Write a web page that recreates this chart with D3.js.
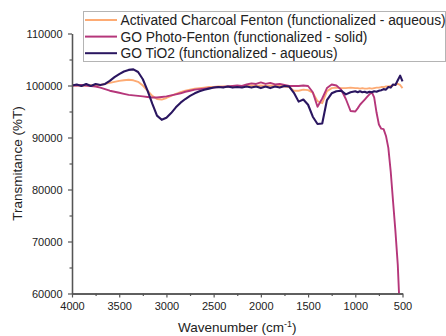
<!DOCTYPE html>
<html>
<head>
<meta charset="utf-8">
<script src="https://cdn.jsdelivr.net/npm/d3@7"></script>
<style>
  body { margin: 0; background: #fff; }
  svg { display: block; font-family: "Liberation Sans", Arial, sans-serif; }
  .axis .domain { stroke: #555; stroke-width: 1.3; }
  .axis line { stroke: #555; stroke-width: 1.2; }
  .axis text { fill: #222; font-size: 11px; }
</style>
</head>
<body>
<div id="chart"></div>
<script>
// wavenumber grid (cm-1)
const wavenumbers = [
  4000, 3950, 3900, 3850, 3800, 3750, 3700, 3650, 3600, 3550,
  3500, 3450, 3400, 3350, 3300, 3250, 3200, 3150, 3100, 3050,
  3000, 2950, 2900, 2850, 2800, 2750, 2700, 2650, 2600, 2550,
  2500, 2450, 2400, 2350, 2300, 2250, 2200, 2150, 2100, 2050,
  2000, 1950, 1900, 1850, 1800, 1750, 1700, 1650, 1600, 1550,
  1500, 1450, 1400, 1350, 1300, 1250, 1200, 1150, 1100, 1050,
  1000,
  975, 950, 925, 900, 875, 850, 825, 800, 775, 750,
  725, 700, 675, 650, 625, 600, 575, 550, 525, 500
];

const charcoalFenton = [
  100000, 100050, 99950, 100000, 100050, 100000, 100100, 100300, 100500, 100700,
  100900, 101000, 101100, 101000, 100700, 100000, 99000, 98000, 97400, 97300,
  97600, 98000, 98400, 98700, 99000, 99200, 99400, 99500, 99600, 99700,
  99700, 99800, 99800, 99800, 99900, 99900, 99900, 99900, 100000, 99900,
  100000, 99900, 100000, 99900, 99900, 99800, 99700, 99000, 99000, 99200,
  99100, 98600, 97000, 96600, 98900, 99500, 99600, 99500, 99500, 99600,
  99500,
  99500, 99400, 99500, 99400, 99400, 99500, 99400, 99500, 99600, 99600,
  99700, 99700, 99800, 99800, 99900, 100000, 100200, 100300, 100100, 99500
];

const photoFenton = [
  100000, 100000, 100100, 100000, 99900, 99800, 99600, 99300, 99000, 98800,
  98600, 98400, 98200, 98100, 98000, 97900, 97800, 97700, 97700, 97800,
  97900, 98100, 98300, 98500, 98800, 99000, 99200, 99300, 99400, 99500,
  99600, 99700, 99700, 99800, 99900, 100000, 99900, 100200, 100400, 100300,
  100600, 100300, 100500, 100200, 100300, 100100, 99900, 99900, 99900, 100000,
  99900, 98700, 95900, 97500, 99500, 100200, 100000, 99200, 97400, 95100,
  95000,
  95600, 96300, 96800, 97300, 97800, 98300, 98700, 97700, 94800, 92500,
  91700, 91600, 90300, 88000, 83500, 77700, 72000, 65500, 55000, 48000
];

const goTiO2 = [
  100000, 100200, 99900, 100300, 99900, 100300, 100100, 100300, 100900, 101600,
  102200, 102700, 103000, 103100, 102600, 101200, 99000, 96500, 94200, 93400,
  93800, 94700, 95800, 96700, 97400, 98000, 98500, 98900, 99200, 99400,
  99600, 99700, 99600, 99800, 99600, 99700, 99600, 99800, 99600, 99800,
  99500, 99800, 99500, 99800, 99600, 99900, 99800, 98600, 96900, 97300,
  96300, 94000, 92600, 92700, 97200, 98500, 98900, 99000, 98300, 98700,
  98900,
  98700, 98900, 98700, 98800, 98600, 98800, 98700, 98900, 98800, 99000,
  99100, 99300, 99200, 99700, 99600, 100200, 100100, 101000, 101900, 100800
];

const seriesNames = [
  'Activated Charcoal Fenton (functionalized - aqueous)',
  'GO Photo-Fenton (functionalized - solid)',
  'GO TiO2 (functionalized - aqueous)'
];
const seriesColors = ['#fdab74', '#b5367a', '#2a1660'];
const seriesValues = [charcoalFenton, photoFenton, goTiO2];

const xTicks = [4000, 3500, 3000, 2500, 2000, 1500, 1000, 500];
const xMinorTicks = [3750, 3250, 2750, 2250, 1750, 1250, 750];
const yTicks = [60000, 70000, 80000, 90000, 100000, 110000];
const yMinorTicks = [65000, 75000, 85000, 95000, 105000];

const width = 446;
const height = 336;
const margin = { top: 33.5, right: 43.5, bottom: 42.5, left: 72 };

const svg = d3.select('#chart')
  .append('svg')
  .attr('width', width)
  .attr('height', height);

const x = d3.scaleLinear()
  .domain([4000, 500])
  .range([margin.left, width - margin.right]);

const y = d3.scaleLinear()
  .domain([60000, 110000])
  .range([height - margin.bottom, margin.top]);

// clip so the photo-Fenton drop stops at the bottom axis
svg.append('clipPath')
  .attr('id', 'plot-clip')
  .append('rect')
  .attr('x', margin.left)
  .attr('y', margin.top - 10)
  .attr('width', width - margin.left - margin.right + 2)
  .attr('height', height - margin.top - margin.bottom + 10);

// minor ticks first, then major axes on top
svg.append('g')
  .attr('class', 'axis')
  .attr('transform', `translate(0,${height - margin.bottom})`)
  .call(d3.axisBottom(x).tickValues(xMinorTicks).tickSize(2.5).tickSizeOuter(0).tickFormat(''));

svg.append('g')
  .attr('class', 'axis')
  .attr('transform', `translate(${margin.left},0)`)
  .call(d3.axisLeft(y).tickValues(yMinorTicks).tickSize(2.5).tickSizeOuter(0).tickFormat(''));

const line = d3.line()
  .x((d, i) => x(wavenumbers[i]))
  .y(d => y(d));

const plot = svg.append('g').attr('clip-path', 'url(#plot-clip)');

seriesValues.forEach((values, i) => {
  plot.append('path')
    .datum(values)
    .attr('fill', 'none')
    .attr('stroke', seriesColors[i])
    .attr('stroke-width', i === 2 ? 2.1 : 1.9)
    .attr('stroke-linejoin', 'round')
    .attr('d', line);
});

svg.append('g')
  .attr('class', 'axis')
  .attr('transform', `translate(0,${height - margin.bottom})`)
  .call(d3.axisBottom(x).tickValues(xTicks).tickSize(4).tickSizeOuter(0).tickPadding(5).tickFormat(d3.format('d')));

svg.append('g')
  .attr('class', 'axis')
  .attr('transform', `translate(${margin.left},0)`)
  .call(d3.axisLeft(y).tickValues(yTicks).tickSize(4).tickSizeOuter(0).tickPadding(5.5).tickFormat(d3.format('d')));

// axis titles
const xTitle = svg.append('text')
  .attr('x', (margin.left + width - margin.right) / 2)
  .attr('y', 332)
  .attr('text-anchor', 'middle')
  .style('font-size', '13.5px')
  .style('fill', '#222');
xTitle.append('tspan').text('Wavenumber (cm');
xTitle.append('tspan').attr('dy', -5).style('font-size', '9px').text('-1');
xTitle.append('tspan').attr('dy', 5).text(')');

svg.append('text')
  .attr('transform', `translate(21.5, ${(margin.top + height - margin.bottom) / 2}) rotate(-90)`)
  .attr('text-anchor', 'middle')
  .style('font-size', '13.5px')
  .style('fill', '#222')
  .text('Transmitance (%T)');

// legend
const legend = svg.append('g');
legend.append('rect')
  .attr('x', 83.5)
  .attr('y', 11.5)
  .attr('width', 362)
  .attr('height', 50)
  .attr('fill', '#fff')
  .attr('stroke', '#b4b4b4')
  .attr('stroke-width', 1);

seriesNames.forEach((name, i) => {
  const rowY = 20 + i * 16.6;
  legend.append('line')
    .attr('x1', 85)
    .attr('x2', 117)
    .attr('y1', rowY)
    .attr('y2', rowY)
    .attr('stroke', seriesColors[i])
    .attr('stroke-width', 2);
  legend.append('text')
    .attr('x', 120.5)
    .attr('y', rowY + 5)
    .style('font-size', '13.8px')
    .style('fill', '#222')
    .text(name);
});
</script>
</body>
</html>
